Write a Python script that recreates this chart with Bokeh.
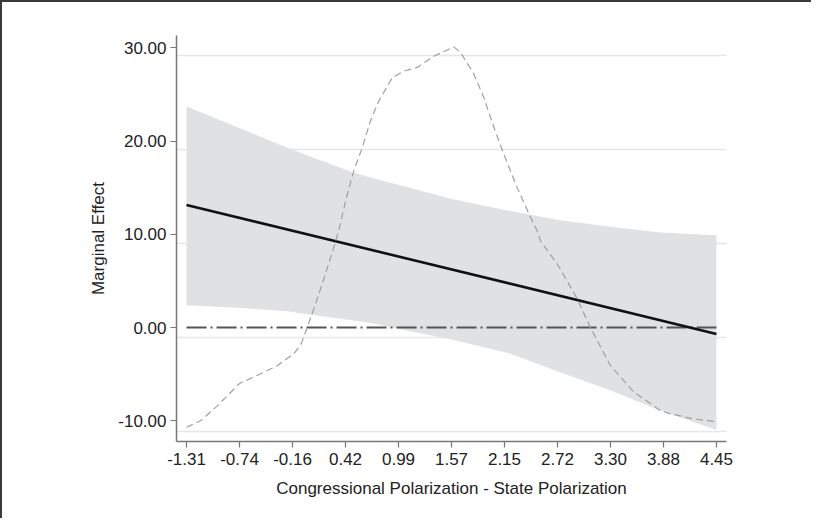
from bokeh.plotting import figure
from bokeh.models import Range1d, FixedTicker, Grid, NumeralTickFormatter
from bokeh.embed import file_html
from bokeh.resources import INLINE

# ---- data ----
x_tick_values = [-1.31, -0.734, -0.158, 0.418, 0.994, 1.57, 2.146, 2.722, 3.298, 3.874, 4.45]
x_tick_labels = ["-1.31", "-0.74", "-0.16", "0.42", "0.99", "1.57", "2.15", "2.72", "3.30", "3.88", "4.45"]
y_tick_values = [-10, 0, 10, 20, 30]

# marginal effect (linear) endpoints
me_x = [-1.31, 4.45]
me_y = [13.15, -0.68]

# confidence band
band_x = [-1.31, -0.71, -0.22, 0.02, 0.51, 0.74, 1.12, 1.56, 2.21, 2.75, 3.30, 3.84, 4.45]
band_upper = [23.7, 21.3, 19.3, 18.4, 16.6, 15.95, 15.0, 13.8, 12.5, 11.5, 10.8, 10.2, 9.9]
band_lower = [2.4, 2.1, 1.75, 1.4, 0.75, 0.4, -0.4, -1.25, -2.8, -4.8, -6.75, -8.9, -11.0]

# density of the moderator (dashed curve, in plot units)
dens_x = [-1.31, -1.158, -0.976, -0.734, -0.579, -0.324, -0.144, -0.071, -0.017, 0.073, 0.182,
          0.291, 0.35, 0.429, 0.508, 0.60, 0.69, 0.78, 0.926, 1.052, 1.197, 1.378, 1.595,
          1.668, 1.812, 1.92, 2.03, 2.138, 2.284, 2.43, 2.50, 2.537, 2.733, 2.936, 3.08,
          3.298, 3.55, 3.84, 3.95, 4.02, 4.20, 4.45]
dens_y = [-10.7, -10.0, -8.4, -6.0, -5.3, -4.1, -2.8, -1.9, -0.5, 2.0, 5.2,
          8.6, 10.6, 14.0, 16.8, 19.3, 22.2, 24.3, 26.8, 27.5, 27.9, 29.1, 30.1,
          29.5, 27.2, 24.7, 21.5, 18.6, 15.0, 11.8, 10.4, 9.3, 6.6, 3.1, 0.0,
          -4.1, -6.9, -8.9, -9.25, -9.4, -9.8, -10.1]

# reference gridlines (secondary scale, not aligned with ticks)
grid_values = [-11.12, -1.03, 8.98, 19.09, 29.17]

zero_x = [-1.31, 4.45]
zero_y = [0, 0]

FONT = "Liberation Sans"

p = figure(width=811, height=518, output_backend="svg", toolbar_location=None,
           x_range=Range1d(-1.419, 4.559), y_range=Range1d(-12.22, 31.32),
           min_border_left=174, min_border_right=87, min_border_top=33, min_border_bottom=79,
           styles={"border-left": "2px solid #3a3a3a", "border-top": "2px solid #3a3a3a"})
p.outline_line_color = None
p.background_fill_color = "white"
p.border_fill_color = "white"

p.xgrid.visible = False
p.ygrid.visible = False
g = Grid(dimension=1, ticker=FixedTicker(ticks=grid_values),
         grid_line_color="#e6e6e6", grid_line_width=1.5)
p.add_layout(g)

# band
p.varea(x=band_x, y1=band_lower, y2=band_upper, fill_color="#e0e1e3", fill_alpha=1.0)
# zero reference line
p.line(zero_x, zero_y, line_color="#555555", line_width=2, line_dash="20 4 2 4")
# marginal effect
p.line(me_x, me_y, line_color="#111111", line_width=2.6)
# density
p.line(dens_x, dens_y, line_color="#a0a0a0", line_width=1.2, line_dash="7 4")

# axes
p.xaxis.ticker = FixedTicker(ticks=x_tick_values)
p.xaxis.major_label_overrides = {v: l for v, l in zip(x_tick_values, x_tick_labels)}
p.yaxis.ticker = FixedTicker(ticks=y_tick_values)
p.yaxis.formatter = NumeralTickFormatter(format="0.00")

for ax in (p.xaxis[0], p.yaxis[0]):
    ax.axis_line_color = "#777777"
    ax.axis_line_width = 1.5
    ax.major_tick_line_color = "#777777"
    ax.major_tick_line_width = 1.2
    ax.major_tick_in = 0
    ax.major_tick_out = 6
    ax.minor_tick_line_color = None
    ax.major_label_text_font = FONT
    ax.major_label_text_font_size = "17px"
    ax.major_label_text_color = "#222222"
    ax.axis_label_text_font = FONT
    ax.axis_label_text_font_size = "17px"
    ax.axis_label_text_font_style = "normal"
    ax.axis_label_text_color = "#222222"

p.xaxis.axis_label = "Congressional Polarization - State Polarization"
p.yaxis.axis_label = "Marginal Effect"
p.xaxis.major_label_standoff = 5
p.xaxis.axis_label_standoff = 11
p.yaxis.major_label_standoff = 4
p.yaxis.axis_label_standoff = 7
p.yaxis.major_label_orientation = "horizontal"

open("out.html", "w").write(file_html(p, INLINE))
